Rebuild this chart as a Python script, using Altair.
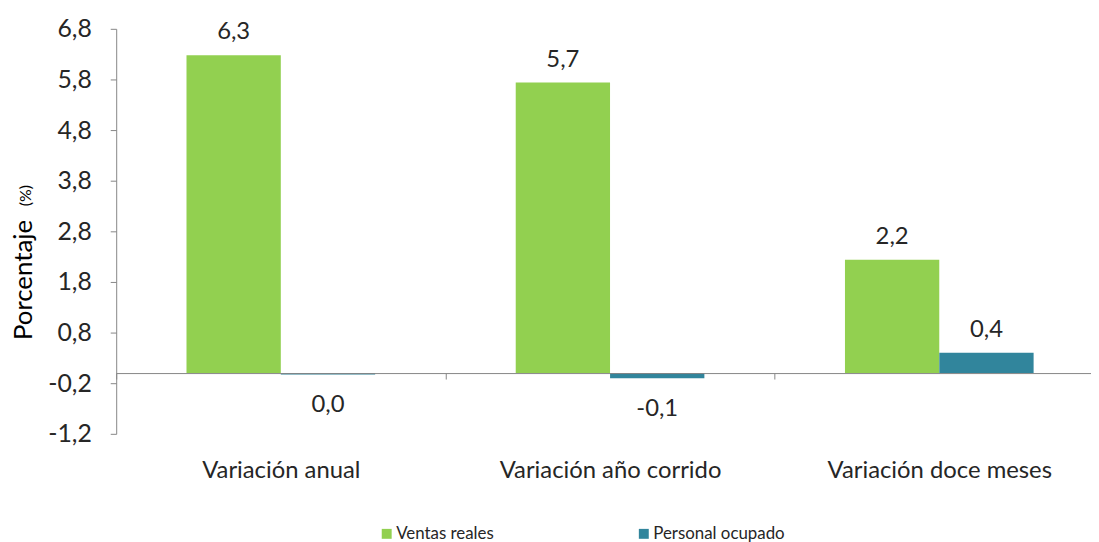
import altair as alt
import pandas as pd

categories = ["Variación anual", "Variación año corrido", "Variación doce meses"]
series = ["Ventas reales", "Personal ocupado"]
ventas = [6.28, 5.74, 2.24]
personal = [-0.03, -0.10, 0.40]
y_ticks = [-1.2, -0.2, 0.8, 1.8, 2.8, 3.8, 4.8, 5.8, 6.8]
colors = ["#92D050", "#31859C"]

rows = []
for c, v in zip(categories, ventas):
    rows.append({"cat": c, "serie": series[0], "v": v})
for c, v in zip(categories, personal):
    rows.append({"cat": c, "serie": series[1], "v": v})
df = pd.DataFrame(rows)

FONT = "Lato"
TXT = "#262626"
GRAY = "#868686"
W_RANGE = 995
H = 408
FS = 24

x = alt.X("cat:N", sort=categories, title=None,
          scale=alt.Scale(range=[0, W_RANGE], paddingInner=0, paddingOuter=0),
          axis=alt.Axis(orient="bottom", offset=-61.2, tickBand="extent", ticks=True,
                        tickSize=6, tickColor=GRAY, domainColor=GRAY, labelAngle=0,
                        labelFont=FONT, labelFontSize=FS, labelColor=TXT, labelLimit=0,
                        labelPadding=80, labelBaseline="top", zindex=1, grid=False))
xoff = alt.XOffset("serie:N", sort=series,
                   scale=alt.Scale(paddingInner=0, paddingOuter=0.745))
y = alt.Y("v:Q", title=None,
          scale=alt.Scale(domain=[-1.2, 6.8], nice=False, zero=False),
          axis=alt.Axis(values=y_ticks, grid=False, domainColor=GRAY, tickColor=GRAY,
                        tickSize=6, labelFont=FONT, labelFontSize=25, labelColor=TXT,
                        labelPadding=19,
                        labelExpr="(datum.value < 0 ? '-' : '') + replace(format(abs(datum.value), '.1f'), '.', ',')"))
color = alt.Color("serie:N", sort=series,
                  scale=alt.Scale(domain=series, range=colors),
                  legend=alt.Legend(title=None, orient="none", direction="horizontal",
                                    legendX=264, legendY=500, symbolType="square",
                                    symbolSize=100, symbolStrokeWidth=0,
                                    labelFont=FONT, labelFontSize=17, labelColor=TXT,
                                    columnPadding=142, labelOffset=1))

base = alt.Chart(df).transform_calculate(
    r="round(datum.v * 10) / 10"
).transform_calculate(
    lab="(datum.r < 0 ? '-' : '') + replace(format(abs(datum.r), '.1f'), '.', ',')"
)

bars = base.mark_bar(size=95).encode(x=x, xOffset=xoff, y=y, color=color)

lab_pos = base.transform_filter("datum.v >= 0").mark_text(
    font=FONT, fontSize=FS, color=TXT, baseline="middle", dy=-23
).encode(x=x, xOffset=xoff, y=y, text="lab:N")

lab_neg = base.transform_filter("datum.v < 0").mark_text(
    font=FONT, fontSize=FS, color=TXT, baseline="middle", dy=31
).encode(x=x, xOffset=xoff, y=y, text="lab:N")

title_main = alt.Chart(pd.DataFrame({"t": ["Porcentaje"]})).mark_text(
    font=FONT, fontSize=26, color="#000000", angle=270, baseline="middle", align="center"
).encode(x=alt.value(-93), y=alt.value(253), text="t:N")
title_pct = alt.Chart(pd.DataFrame({"t": ["(%)"]})).mark_text(
    font=FONT, fontSize=16, color="#000000", angle=270, baseline="middle", align="center"
).encode(x=alt.value(-91), y=alt.value(168), text="t:N")

chart = alt.layer(bars, lab_pos, lab_neg, title_main, title_pct).properties(
    width=980, height=H,
    autosize=alt.AutoSizeParams(type="none"),
    padding={"left": 109, "top": 19, "right": 2, "bottom": 107},
).configure_view(stroke=None).configure_axis(labelOverlap=False)

chart.save("out.html", embed_options={"renderer": "svg", "actions": False})
